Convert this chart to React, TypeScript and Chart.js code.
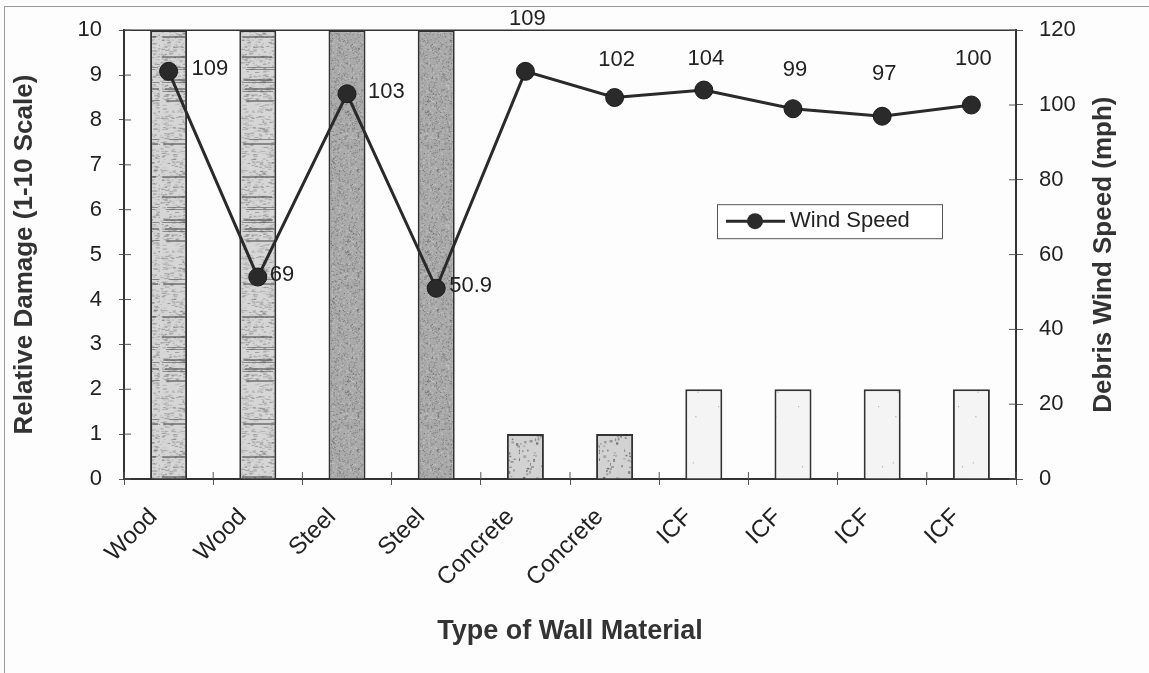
import React, { useEffect, useRef } from 'react';
import { Chart, registerables } from 'chart.js';

Chart.register(...registerables);

// ---------- data ----------
const categories = ['Wood', 'Wood', 'Steel', 'Steel', 'Concrete', 'Concrete', 'ICF', 'ICF', 'ICF', 'ICF'];
const relativeDamage = [10, 10, 10, 10, 1, 1, 2, 2, 2, 2];
// plotted wind speed positions as drawn in the picture
const windSpeed = [109, 54, 103, 51, 109, 102, 104, 99, 97, 100];
// wind speed labels as written in the picture
const windSpeedLabels = ['109', '69', '103', '50.9', '109', '102', '104', '99', '97', '100'];
const damageTicks = [0, 1, 2, 3, 4, 5, 6, 7, 8, 9, 10];
const speedTicks = [0, 20, 40, 60, 80, 100, 120];

// ---------- style ----------
const FONT = '"Liberation Sans", Arial, Helvetica, sans-serif';
const INK = '#2a2a2a';
const AXIS = '#333333';
// label placement (style): side of the point and distance from it
const labelSide = ['right', 'right', 'right', 'right', 'above', 'above', 'above', 'above', 'above', 'above'];
const labelGap = [23, 12, 21, 13, 52, 38, 31, 39, 42, 46];

function hash(n: number) {
  const s = Math.sin(n * 127.1 + 311.7) * 43758.5453;
  return s - Math.floor(s);
}

function makeTexture(kind: string): CanvasPattern | string {
  const c = document.createElement('canvas');
  const w = 40;
  const h = 140;
  c.width = w;
  c.height = h;
  const g = c.getContext('2d');
  if (!g) return '#cccccc';
  if (kind === 'Wood') {
    g.fillStyle = '#d6d6d6';
    g.fillRect(0, 0, w, h);
    for (let i = 0; i < 600; i++) {
      const x = hash(i) * w;
      const y = hash(i + 1000) * h;
      g.fillStyle = `rgba(80,80,80,${0.12 + 0.3 * hash(i + 2000)})`;
      g.fillRect(x, y, 1 + 4 * hash(i + 3000), 1);
    }
    for (let i = 0; i < 12; i++) {
      const y = Math.floor(hash(i + 5000) * h);
      const x0 = hash(i + 5500) * 10;
      g.fillStyle = 'rgba(60,60,60,0.5)';
      g.fillRect(x0, y, w - x0 - hash(i + 5800) * 8, 1 + Math.floor(hash(i + 6000) * 2));
    }
  } else if (kind === 'Steel') {
    g.fillStyle = '#a9a9a9';
    g.fillRect(0, 0, w, h);
    for (let i = 0; i < 1600; i++) {
      const x = hash(i + 7000) * w;
      const y = hash(i + 8000) * h;
      const v = hash(i + 9000);
      g.fillStyle = v > 0.5 ? 'rgba(70,70,70,0.45)' : 'rgba(220,220,220,0.5)';
      g.fillRect(x, y, 1, 1);
    }
  } else if (kind === 'Concrete') {
    g.fillStyle = '#d2d2d2';
    g.fillRect(0, 0, w, h);
    for (let i = 0; i < 160; i++) {
      const x = hash(i + 11000) * w;
      const y = hash(i + 12000) * h;
      g.fillStyle = `rgba(70,70,70,${0.3 + 0.4 * hash(i + 13000)})`;
      g.fillRect(x, y, 1 + 2 * hash(i + 14000), 1 + 2 * hash(i + 15000));
    }
  } else {
    g.fillStyle = '#f4f4f4';
    g.fillRect(0, 0, w, h);
    for (let i = 0; i < 12; i++) {
      const x = hash(i + 16000) * w;
      const y = hash(i + 17000) * h;
      g.fillStyle = 'rgba(90,90,90,0.6)';
      g.fillRect(x, y, 1, 1);
    }
  }
  return g.createPattern(c, 'repeat') || '#cccccc';
}

// plot-area top border and inward halves of the tick marks
const frameTicksPlugin = {
  id: 'frameTicks',
  afterDatasetsDraw(chart: any) {
    const { ctx, chartArea, scales } = chart;
    ctx.save();
    ctx.strokeStyle = AXIS;
    ctx.lineWidth = 1.5;
    ctx.beginPath();
    ctx.moveTo(chartArea.left, chartArea.top);
    ctx.lineTo(chartArea.right, chartArea.top);
    ctx.stroke();
    ctx.lineWidth = 1;
    ctx.strokeStyle = '#555';
    const inner = 7;
    ctx.beginPath();
    damageTicks.forEach((v) => {
      const y = scales.y.getPixelForValue(v);
      ctx.moveTo(chartArea.left, y);
      ctx.lineTo(chartArea.left + inner, y);
    });
    speedTicks.forEach((v) => {
      const y = scales.y1.getPixelForValue(v);
      ctx.moveTo(chartArea.right, y);
      ctx.lineTo(chartArea.right - inner, y);
    });
    for (let i = 0; i <= categories.length; i++) {
      const x = scales.x.getPixelForValue(i - 0.5);
      ctx.moveTo(x, chartArea.bottom);
      ctx.lineTo(x, chartArea.bottom - inner);
    }
    ctx.stroke();
    ctx.restore();
  },
};

const pointLabelPlugin = {
  id: 'pointLabels',
  afterDatasetsDraw(chart: any) {
    const { ctx } = chart;
    const meta = chart.getDatasetMeta(1);
    ctx.save();
    ctx.font = `22px ${FONT}`;
    ctx.fillStyle = '#222';
    meta.data.forEach((pt: any, i: number) => {
      const text = windSpeedLabels[i];
      ctx.textBaseline = 'middle';
      if (labelSide[i] === 'right') {
        ctx.textAlign = 'left';
        ctx.fillText(text, pt.x + labelGap[i], pt.y - 2);
      } else {
        ctx.textAlign = 'center';
        ctx.fillText(text, pt.x + 2, pt.y - labelGap[i]);
      }
    });
    ctx.restore();
  },
};

const legendAndTitlePlugin = {
  id: 'legendAndTitle',
  afterDraw(chart: any) {
    const { ctx, chartArea } = chart;
    ctx.save();
    // legend box
    const bx = chartArea.left + 593;
    const by = chartArea.top + 174;
    const bw = 225;
    const bh = 34;
    ctx.fillStyle = '#ffffff';
    ctx.fillRect(bx, by, bw, bh);
    ctx.strokeStyle = '#555';
    ctx.lineWidth = 1;
    ctx.strokeRect(bx + 0.5, by + 0.5, bw, bh);
    const cy = by + bh / 2;
    ctx.strokeStyle = INK;
    ctx.lineWidth = 3;
    ctx.beginPath();
    ctx.moveTo(bx + 9, cy);
    ctx.lineTo(bx + 68, cy);
    ctx.stroke();
    ctx.fillStyle = INK;
    ctx.beginPath();
    ctx.arc(bx + 38, cy, 8, 0, Math.PI * 2);
    ctx.fill();
    ctx.font = `22px ${FONT}`;
    ctx.fillStyle = '#222';
    ctx.textAlign = 'left';
    ctx.textBaseline = 'middle';
    ctx.fillText('Wind Speed', bx + 73, cy);
    // right axis title, reading bottom-to-top
    ctx.translate(chartArea.right + 88, (chartArea.top + chartArea.bottom) / 2);
    ctx.rotate(-Math.PI / 2);
    ctx.font = `bold 26px ${FONT}`;
    ctx.fillStyle = '#333';
    ctx.textAlign = 'center';
    ctx.textBaseline = 'middle';
    ctx.fillText('Debris Wind Speed (mph)', 0, 0);
    ctx.restore();
  },
};

export default function App() {
  const ref = useRef<HTMLCanvasElement | null>(null);

  useEffect(() => {
    if (!ref.current) return;
    const fills = categories.map((c) => makeTexture(c));
    const chart = new Chart(ref.current, {
      type: 'bar',
      data: {
        labels: categories,
        datasets: [
          {
            type: 'bar',
            label: 'Relative Damage',
            data: relativeDamage,
            yAxisID: 'y',
            backgroundColor: fills as any,
            borderColor: AXIS,
            borderWidth: 2,
            barPercentage: 0.415,
            categoryPercentage: 1,
            order: 2,
          },
          {
            type: 'line',
            label: 'Wind Speed',
            data: windSpeed,
            yAxisID: 'y1',
            borderColor: INK,
            borderWidth: 3,
            pointRadius: 9,
            pointBackgroundColor: INK,
            pointBorderColor: '#1a1a1a',
            pointBorderWidth: 1,
            tension: 0,
            order: 1,
          },
        ],
      },
      options: {
        responsive: false,
        animation: false,
        layout: { padding: { top: 28, left: 0, right: 0, bottom: 0 } },
        plugins: {
          legend: { display: false },
          tooltip: { enabled: false },
        },
        scales: {
          x: {
            type: 'category',
            grid: { offset: true, drawOnChartArea: false, tickLength: 6, color: '#555', lineWidth: 1 },
            border: { color: AXIS, width: 2 },
            ticks: {
              minRotation: 45,
              maxRotation: 45,
              autoSkip: false,
              padding: 18,
              labelOffset: -15,
              color: '#222',
              font: { family: FONT, size: 24 },
            },
            title: {
              display: true,
              text: 'Type of Wall Material',
              color: '#333',
              font: { family: FONT, size: 27, weight: 'bold' },
              padding: { top: 0, bottom: 25 },
            },
            afterFit: (s: any) => {
              s.height = 194;
            },
          },
          y: {
            position: 'left',
            min: 0,
            max: 10,
            afterBuildTicks: (s: any) => {
              s.ticks = damageTicks.map((v) => ({ value: v }));
            },
            grid: { drawOnChartArea: false, tickLength: 5, color: '#555' },
            border: { color: AXIS, width: 2 },
            ticks: { padding: 17, color: '#222', font: { family: FONT, size: 22 } },
            title: {
              display: true,
              text: 'Relative Damage (1-10 Scale)',
              color: '#333',
              font: { family: FONT, size: 26, weight: 'bold' },
              padding: { top: 9, bottom: 0 },
            },
            afterFit: (s: any) => {
              s.width = 124;
            },
          },
          y1: {
            position: 'right',
            min: 0,
            max: 120,
            afterBuildTicks: (s: any) => {
              s.ticks = speedTicks.map((v) => ({ value: v }));
            },
            grid: { drawOnChartArea: false, tickLength: 7, color: '#555' },
            border: { color: AXIS, width: 2 },
            ticks: { padding: 16, color: '#222', font: { family: FONT, size: 22 } },
            afterFit: (s: any) => {
              s.width = 133;
            },
          },
        },
      } as any,
      plugins: [frameTicksPlugin, pointLabelPlugin, legendAndTitlePlugin],
    });
    return () => chart.destroy();
  }, []);

  return (
    <div style={{ position: 'absolute', left: 0, top: 0, width: 1149, height: 673, background: '#fdfdfd', overflow: 'hidden' }}>
      <canvas ref={ref} width={1149} height={673} style={{ display: 'block' }} />
      <div
        style={{
          position: 'absolute',
          left: 4,
          top: 6,
          width: 1200,
          height: 720,
          border: '1px solid #9a9a9a',
          pointerEvents: 'none',
        }}
      />
    </div>
  );
}
